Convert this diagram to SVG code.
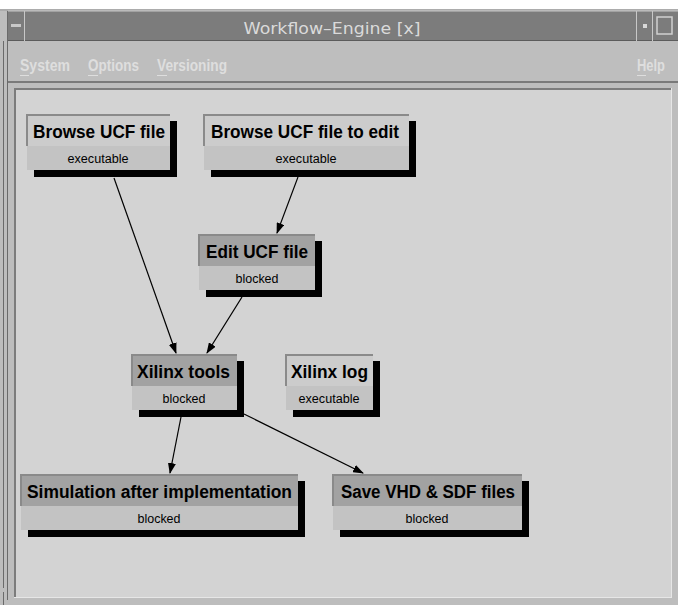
<svg xmlns="http://www.w3.org/2000/svg" width="678" height="605" viewBox="0 0 678 605">
<defs>
<style>
.ttl{font-family:"Liberation Sans",Arial,sans-serif;font-weight:bold;font-size:18px;fill:#000}
.st{font-family:"Liberation Sans",Arial,sans-serif;font-size:12px;fill:#000;text-anchor:middle}
.menu{font-family:"Liberation Sans",Arial,sans-serif;font-weight:bold;font-size:17px;fill:#dedede}
.shadow{fill:#000}
.hx{fill:#cccccc}
.hb{fill:#a2a2a2}
.sa{fill:#c3c3c3}
.bd{stroke:#8a8a8a;stroke-width:2;fill:none}
.edge{stroke:#000;stroke-width:1.2;fill:none;marker-end:url(#arr)}
</style>
<marker id="arr" markerUnits="userSpaceOnUse" markerWidth="11" markerHeight="8" refX="10" refY="4" orient="auto">
<path d="M0,0 L11,4 L0,8 z" fill="#000"/>
</marker>
</defs>
<!-- window chrome -->
<rect x="0" y="0" width="678" height="605" fill="#bdbdbd"/>
<rect x="0" y="0" width="678" height="9" fill="#ffffff"/>
<line x1="0" y1="10" x2="678" y2="10" stroke="#9a9a9a" stroke-width="1"/>
<rect x="8" y="11" width="670" height="30" fill="#7c7c7c"/>
<line x1="8" y1="11" x2="678" y2="11" stroke="#c8c8c8" stroke-width="1"/>
<line x1="8" y1="40.5" x2="678" y2="40.5" stroke="#5c5c5c" stroke-width="1"/>
<line x1="24.5" y1="11" x2="24.5" y2="41" stroke="#c8c8c8" stroke-width="1"/>
<rect x="11" y="24" width="10" height="3" fill="#c8c8c8"/>
<line x1="636.5" y1="11" x2="636.5" y2="41" stroke="#c8c8c8" stroke-width="1"/>
<line x1="652.5" y1="11" x2="652.5" y2="41" stroke="#c8c8c8" stroke-width="1"/>
<rect x="643" y="24" width="4" height="4" fill="#d8d8d8"/>
<rect x="657" y="17" width="15" height="17" fill="none" stroke="#d0d0d0" stroke-width="1.5"/>
<text x="332" y="34" text-anchor="middle" font-family="'DejaVu Sans',sans-serif" font-size="16" fill="#dadada" textLength="177" lengthAdjust="spacingAndGlyphs">Workflow–Engine [x]</text>
<!-- left frame -->
<rect x="0" y="11" width="8" height="594" fill="#bdbdbd"/>
<line x1="3.5" y1="41" x2="3.5" y2="588" stroke="#6a6a6a" stroke-width="1"/>
<line x1="7.5" y1="11" x2="7.5" y2="600" stroke="#6a6a6a" stroke-width="1"/>
<line x1="3.5" y1="592" x2="3.5" y2="605" stroke="#6a6a6a" stroke-width="1"/>
<!-- menu bar -->
<rect x="8" y="41" width="670" height="40" fill="#bebebe"/>
<text class="menu" x="20" y="71" textLength="50" lengthAdjust="spacingAndGlyphs">System</text>
<text class="menu" x="88" y="71" textLength="51" lengthAdjust="spacingAndGlyphs">Options</text>
<text class="menu" x="157" y="71" textLength="70" lengthAdjust="spacingAndGlyphs">Versioning</text>
<text class="menu" x="637" y="71" textLength="28" lengthAdjust="spacingAndGlyphs">Help</text>
<line x1="20" y1="75.5" x2="29" y2="75.5" stroke="#dedede" stroke-width="1"/>
<line x1="88" y1="75.5" x2="98" y2="75.5" stroke="#dedede" stroke-width="1"/>
<line x1="157" y1="75.5" x2="167" y2="75.5" stroke="#dedede" stroke-width="1"/>
<line x1="637" y1="75.5" x2="646" y2="75.5" stroke="#dedede" stroke-width="1"/>
<line x1="8" y1="82" x2="678" y2="82" stroke="#7a7a7a" stroke-width="2"/>
<!-- canvas -->
<rect x="14" y="88" width="657" height="509" fill="#d3d3d3"/>
<line x1="14" y1="89" x2="671" y2="89" stroke="#7c7c7c" stroke-width="2"/>
<line x1="15" y1="88" x2="15" y2="597" stroke="#7c7c7c" stroke-width="2"/>
<line x1="14" y1="597.5" x2="672" y2="597.5" stroke="#e6e6e6" stroke-width="1"/>
<line x1="671.5" y1="88" x2="671.5" y2="598" stroke="#e6e6e6" stroke-width="1"/>

<!-- connectors -->
<g id="connectors">
<line class="edge" x1="114" y1="178" x2="176" y2="353"/>
<line class="edge" x1="298" y1="177" x2="277" y2="233"/>
<line class="edge" x1="242" y1="297" x2="207" y2="353"/>
<line class="edge" x1="181" y1="417" x2="170" y2="473"/>
<line class="edge" x1="244" y1="414" x2="363" y2="473"/>
</g>

<g id="browse-ucf">
<rect class="shadow" x="34" y="121" width="143" height="56"/>
<rect class="hx" x="27" y="114" width="143" height="32"/>
<rect class="sa" x="27" y="146" width="143" height="24"/>
<path class="bd" d="M27,146 V115 H170"/>
<text class="ttl" x="33" y="138" textLength="132" lengthAdjust="spacingAndGlyphs">Browse UCF file</text>
<text class="st" x="98" y="163" textLength="61" lengthAdjust="spacingAndGlyphs">executable</text>
</g>

<g id="browse-ucf-edit">
<rect class="shadow" x="211" y="121" width="205" height="56"/>
<rect class="hx" x="204" y="114" width="205" height="32"/>
<rect class="sa" x="204" y="146" width="205" height="24"/>
<path class="bd" d="M204,146 V115 H409"/>
<text class="ttl" x="211" y="138" textLength="188" lengthAdjust="spacingAndGlyphs">Browse UCF file to edit</text>
<text class="st" x="306" y="163" textLength="61" lengthAdjust="spacingAndGlyphs">executable</text>
</g>

<g id="edit-ucf">
<rect class="shadow" x="206" y="241" width="116" height="56"/>
<rect class="hb" x="199" y="234" width="116" height="32"/>
<rect class="sa" x="199" y="266" width="116" height="24"/>
<path class="bd" d="M199,266 V235 H315"/>
<text class="ttl" x="206" y="258" textLength="102" lengthAdjust="spacingAndGlyphs">Edit UCF file</text>
<text class="st" x="257" y="283" textLength="43" lengthAdjust="spacingAndGlyphs">blocked</text>
</g>

<g id="xilinx-tools">
<rect class="shadow" x="139" y="361" width="105" height="56"/>
<rect class="hb" x="132" y="354" width="105" height="32"/>
<rect class="sa" x="132" y="386" width="105" height="24"/>
<path class="bd" d="M132,386 V355 H237"/>
<text class="ttl" x="137" y="378" textLength="93" lengthAdjust="spacingAndGlyphs">Xilinx tools</text>
<text class="st" x="184" y="403" textLength="43" lengthAdjust="spacingAndGlyphs">blocked</text>
</g>

<g id="xilinx-log">
<rect class="shadow" x="293" y="361" width="87" height="56"/>
<rect class="hx" x="286" y="354" width="87" height="32"/>
<rect class="sa" x="286" y="386" width="87" height="24"/>
<path class="bd" d="M286,386 V355 H373"/>
<text class="ttl" x="291" y="378" textLength="77" lengthAdjust="spacingAndGlyphs">Xilinx log</text>
<text class="st" x="329" y="403" textLength="61" lengthAdjust="spacingAndGlyphs">executable</text>
</g>

<g id="simulation">
<rect class="shadow" x="28" y="481" width="277" height="56"/>
<rect class="hb" x="21" y="474" width="277" height="32"/>
<rect class="sa" x="21" y="506" width="277" height="24"/>
<path class="bd" d="M21,506 V475 H298"/>
<text class="ttl" x="27" y="498" textLength="265" lengthAdjust="spacingAndGlyphs">Simulation after implementation</text>
<text class="st" x="159" y="523" textLength="43" lengthAdjust="spacingAndGlyphs">blocked</text>
</g>

<g id="save-vhd">
<rect class="shadow" x="340" y="481" width="189" height="56"/>
<rect class="hb" x="333" y="474" width="189" height="32"/>
<rect class="sa" x="333" y="506" width="189" height="24"/>
<path class="bd" d="M333,506 V475 H522"/>
<text class="ttl" x="341" y="498" textLength="174" lengthAdjust="spacingAndGlyphs">Save VHD &amp; SDF files</text>
<text class="st" x="427" y="523" textLength="43" lengthAdjust="spacingAndGlyphs">blocked</text>
</g>
</svg>
